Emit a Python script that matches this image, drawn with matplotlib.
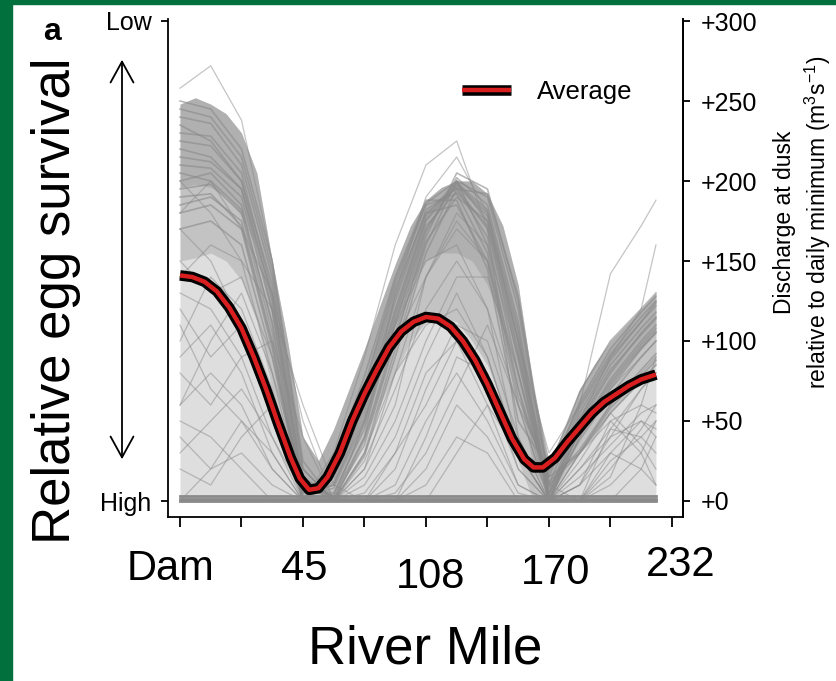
import matplotlib.pyplot as plt
from matplotlib.patches import Rectangle, FancyArrowPatch
from matplotlib.transforms import ScaledTranslation

plt.rcParams['font.family'] = ['Liberation Sans', 'DejaVu Sans']
plt.rcParams['mathtext.fontset'] = 'custom'
plt.rcParams['mathtext.rm'] = 'Liberation Sans'
plt.rcParams['mathtext.it'] = 'Liberation Sans:italic'

# position along the river in tick units (Dam = 0 ... 232 = 8)
tick_pos = [0, 1, 2, 3, 4, 5, 6, 7, 8]
tick_labels = ['Dam', '', '45', '', '108', '', '170', '', '232']
u_nodes = [0, 0.5, 1.0, 1.5, 2.0, 2.5, 3.0, 3.5, 4.0, 4.5, 5.0, 5.5, 6.0, 6.5, 7.0, 7.5, 7.74]

# extent of the cloud of simulated traces: outer edge, dense core, densest part
env_u = [0, 0.25, 0.5, 0.75, 1.0, 1.25, 1.5, 1.75, 2.0, 2.25, 2.5, 2.75, 3.0, 3.25, 3.5, 3.75,
         4.0, 4.25, 4.5, 4.75, 5.0, 5.25, 5.5, 5.75, 6.0, 6.25, 6.5, 6.75, 7.0, 7.25, 7.5, 7.74]
env_top = [248, 252, 248, 242, 230, 205, 150, 100, 40, 25, 45, 70, 95, 122, 148, 172,
           188, 196, 200, 200, 192, 172, 135, 70, 25, 45, 70, 86, 100, 110, 120, 130]
core_bot = [150, 152, 155, 150, 138, 112, 70, 25, 0, 0, 5, 20, 40, 60, 80, 100,
            112, 115, 112, 100, 85, 60, 25, 0, 0, 15, 30, 42, 55, 65, 75, 85]
core_hi_bot = [196, 198, 196, 190, 178, 158, 116, 60, 10, 5, 15, 35, 60, 85, 110, 135,
               150, 155, 155, 150, 135, 110, 70, 20, 5, 25, 45, 60, 72, 85, 95, 105]

# individual simulated traces (discharge at dusk, m3/s above daily minimum)
wave_runs = [
    [245, 240, 215, 145, 20, 0, 30, 95, 160, 200, 190, 120, 10, 30, 58, 78, 88],
    [230, 228, 205, 130, 8, 5, 45, 110, 170, 198, 180, 105, 0, 40, 70, 95, 105],
    [215, 212, 195, 120, 5, 10, 55, 120, 178, 200, 175, 95, 0, 48, 80, 105, 115],
    [200, 205, 185, 110, 0, 15, 60, 128, 182, 195, 165, 80, 5, 55, 88, 112, 122],
    [185, 190, 175, 100, 0, 20, 70, 135, 185, 192, 155, 65, 15, 62, 95, 118, 128],
    [170, 175, 160, 90, 0, 25, 78, 140, 188, 188, 145, 50, 20, 68, 100, 120, 130],
    [240, 236, 210, 140, 15, 2, 35, 100, 165, 205, 195, 125, 12, 32, 60, 82, 92],
    [225, 222, 200, 125, 10, 3, 40, 105, 168, 202, 185, 112, 5, 38, 66, 90, 100],
    [210, 208, 190, 118, 3, 8, 50, 115, 175, 197, 178, 100, 0, 45, 76, 100, 110],
    [195, 198, 180, 105, 0, 12, 58, 125, 180, 196, 170, 88, 3, 52, 85, 108, 118],
    [235, 225, 200, 135, 12, 0, 38, 102, 162, 190, 175, 100, 8, 42, 72, 96, 106],
    [250, 245, 220, 150, 25, 0, 28, 90, 155, 195, 192, 128, 15, 30, 55, 75, 85],
    [180, 185, 170, 95, 0, 18, 65, 132, 180, 185, 150, 60, 18, 60, 92, 115, 125],
    [220, 215, 195, 128, 6, 4, 48, 112, 172, 193, 172, 92, 0, 44, 74, 98, 108],
    [205, 200, 182, 112, 2, 10, 52, 118, 176, 199, 182, 108, 2, 50, 82, 104, 114],
    [190, 192, 172, 98, 0, 22, 72, 138, 186, 200, 160, 70, 10, 58, 90, 112, 124],
]

# scattered traces
other_runs = [
    [120, 90, 110, 50, 0, 0, 10, 40, 90, 130, 90, 30, 0, 20, 45, 40, 30],
    [60, 80, 60, 20, 0, 0, 0, 20, 70, 110, 100, 40, 0, 0, 30, 50, 45],
    [150, 130, 140, 90, 10, 0, 25, 70, 120, 150, 120, 60, 0, 10, 50, 60, 55],
    [30, 50, 70, 40, 5, 0, 0, 0, 40, 90, 80, 20, 0, 25, 55, 35, 20],
    [100, 140, 120, 70, 0, 30, 90, 160, 210, 225, 170, 40, 0, 0, 0, 20, 40],
    [80, 60, 90, 100, 40, 0, 5, 30, 60, 100, 60, 10, 0, 40, 70, 90, 100],
    [170, 150, 110, 60, 0, 0, 0, 10, 50, 80, 50, 10, 0, 15, 35, 55, 60],
    [40, 20, 30, 10, 0, 0, 15, 50, 100, 140, 140, 80, 10, 0, 20, 45, 60],
    [200, 180, 150, 80, 15, 0, 40, 130, 190, 215, 180, 100, 30, 60, 142, 172, 188],
    [140, 160, 150, 120, 60, 10, 0, 0, 20, 60, 40, 5, 0, 0, 10, 30, 50],
    [90, 110, 80, 30, 0, 0, 30, 80, 110, 120, 90, 30, 0, 30, 60, 80, 90],
    [20, 10, 40, 60, 20, 0, 0, 5, 30, 70, 110, 60, 0, 20, 40, 50, 40],
    [60, 100, 130, 80, 0, 0, 20, 60, 140, 180, 160, 90, 20, 50, 90, 120, 160],
    [110, 70, 50, 20, 0, 0, 0, 0, 10, 40, 30, 0, 0, 10, 30, 20, 10],
    [180, 200, 170, 130, 50, 0, 50, 110, 150, 160, 120, 30, 0, 0, 25, 40, 50],
    [50, 40, 20, 0, 0, 0, 0, 0, 0, 30, 60, 30, 0, 0, 45, 70, 80],
    [130, 120, 90, 40, 0, 20, 60, 100, 140, 175, 150, 70, 0, 0, 15, 60, 90],
    [0, 20, 50, 30, 0, 0, 0, 30, 80, 100, 70, 20, 0, 30, 50, 30, 10],
    [258, 272, 238, 150, 20, 0, 20, 80, 140, 170, 150, 80, 0, 10, 40, 70, 80],
]

# traces that stay at the daily minimum
flat_levels = [0, 1.5, 3]

# average across all runs
avg_u = [0, 0.2, 0.4, 0.6, 0.8, 1.0, 1.2, 1.4, 1.6, 1.8, 1.95, 2.1, 2.25, 2.4, 2.6, 2.8,
         3.0, 3.2, 3.4, 3.6, 3.8, 4.0, 4.2, 4.4, 4.6, 4.8, 5.0, 5.2, 5.4, 5.6, 5.75, 5.9,
         6.1, 6.3, 6.5, 6.7, 6.9, 7.1, 7.3, 7.5, 7.74]
avg_q = [141, 140, 137, 131, 121, 108, 90, 70, 48, 27, 14, 7, 8, 15, 30, 50,
         67, 82, 96, 106, 112, 115, 114, 109, 100, 88, 73, 56, 39, 26, 21, 21,
         27, 37, 46, 55, 62, 67, 72, 76, 79]

W, H = 836, 681
GRAY = '#8a8a8a'
fig = plt.figure(figsize=(W / 100, H / 100), dpi=100)
fig.patches.append(Rectangle((0, 0), 12 / W, 1, transform=fig.transFigure, color='#02703d'))
fig.patches.append(Rectangle((0, 1 - 4 / H), 1, 4 / H, transform=fig.transFigure, color='#02703d'))

ax = fig.add_axes([168 / W, 1 - 517 / H, 515 / W, 498 / H])

ax.fill_between(env_u, 0, env_top, color=GRAY, alpha=0.28, lw=0)
ax.fill_between(env_u, core_bot, env_top, color=GRAY, alpha=0.32, lw=0)
ax.fill_between(env_u, core_hi_bot, env_top, color=GRAY, alpha=0.32, lw=0)
for run in other_runs:
    ax.plot(u_nodes, run, color=GRAY, lw=0.9, alpha=0.5)
for run in wave_runs:
    ax.plot(u_nodes, run, color=GRAY, lw=1.2, alpha=0.6)
for lev in flat_levels:
    ax.plot([u_nodes[0], u_nodes[-1]], [lev, lev], color=GRAY, lw=2.0)

outer, = ax.plot(avg_u, avg_q, color='black', lw=7.6, solid_capstyle='butt')
inner, = ax.plot(avg_u, avg_q, color='#d81e1e', lw=3.2, solid_capstyle='butt')

ax.set_xlim(-0.195, 8.18)
ax.set_ylim(-10, 301.25)
ax.spines['top'].set_visible(False)
for s in ['left', 'right', 'bottom']:
    ax.spines[s].set_linewidth(1.3)

ax.set_xticks(tick_pos)
ax.set_xticklabels(tick_labels, fontsize=30)
ax.tick_params(axis='x', length=7, width=1.3, pad=16)
shifts = [(-6.5, 0), (0, 0), (0.7, 0), (0, 0), (3, -6), (0, 0), (4.5, -3), (0, 0), (6, 3)]
for lab, (dx, dy) in zip(ax.get_xticklabels(), shifts):
    lab.set_transform(lab.get_transform() + ScaledTranslation(dx / 72, dy / 72, fig.dpi_scale_trans))

ax.set_yticks([0, 300])
ax.set_yticklabels(['High', 'Low'], fontsize=18)
ax.tick_params(axis='y', length=5, width=1.3, pad=7)

ax2 = ax.twinx()
ax2.set_ylim(ax.get_ylim())
ax2.set_yticks([0, 50, 100, 150, 200, 250, 300])
ax2.set_yticklabels(['+0', '+50', '+100', '+150', '+200', '+250', '+300'], fontsize=18)
ax2.tick_params(axis='y', length=5, width=1.3, pad=8)
for s in ['top', 'left', 'bottom']:
    ax2.spines[s].set_visible(False)
ax2.spines['right'].set_linewidth(1.3)

ax.legend([(outer, inner)], ['Average'], loc='center left', bbox_to_anchor=(462 / W, 1 - 92 / H),
          bbox_transform=fig.transFigure, frameon=False, fontsize=18.5, handlelength=1.9,
          handletextpad=1.0, borderpad=0, borderaxespad=0)

fig.text(425 / W, 1 - 663 / H, 'River Mile', fontsize=38, ha='center', va='baseline')
fig.text(56 / W, 1 - 301 / H, 'Relative egg survival', fontsize=38, rotation=90,
         ha='center', va='center')
fig.text(803 / W, 1 - 222 / H, 'Discharge at dusk\nrelative to daily minimum (m$^3$s$^{-1}$)',
         fontsize=16.5, rotation=90, ha='center', va='center', linespacing=1.3)
fig.text(52 / W, 1 - 40 / H, 'a', fontsize=23, fontweight='bold', ha='center', va='baseline')

fig.patches.append(FancyArrowPatch((122 / W, 1 - 462 / H), (122 / W, 1 - 57 / H),
                                   transform=fig.transFigure,
                                   arrowstyle='<->,head_length=1.0,head_width=0.55',
                                   mutation_scale=15, lw=1.3, color='black'))

fig.savefig('out.png', dpi=100)
